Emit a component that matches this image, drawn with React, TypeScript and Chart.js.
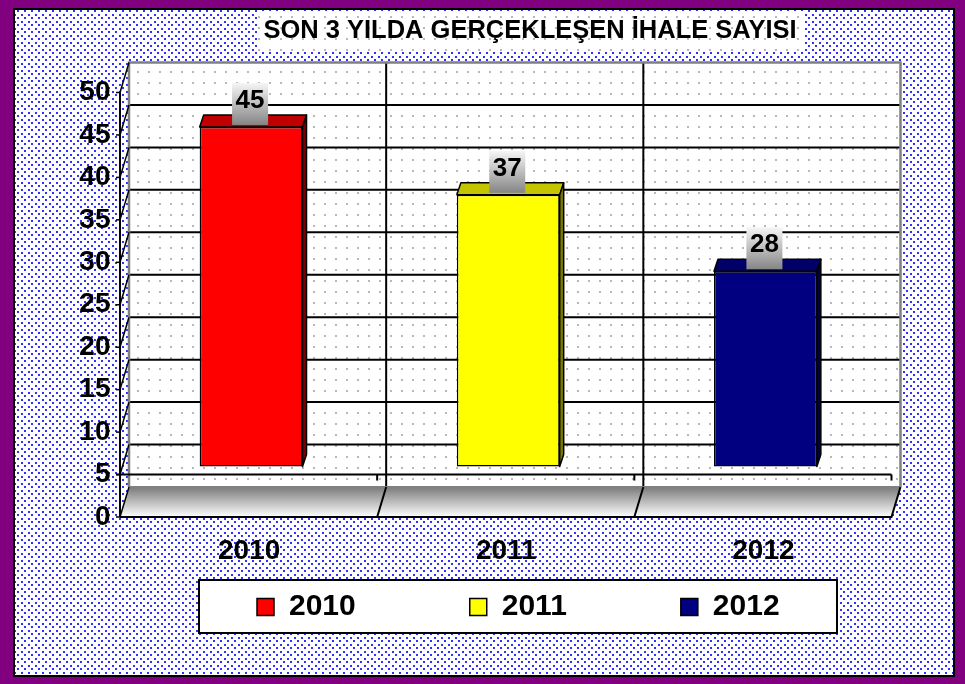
import React, { useEffect, useRef } from 'react';
import { Chart, registerables } from 'chart.js';

Chart.register(...registerables);

const TITLE = 'SON 3 YILDA GERÇEKLEŞEN İHALE SAYISI';
const categories = ['2010', '2011', '2012'];
const values = [45, 37, 28];
const yTickValues = [0, 5, 10, 15, 20, 25, 30, 35, 40, 45, 50];
const axisCrossValue = 5;
const frontColors = ['#ff0000', '#ffff00', '#000080'];
const topColors = ['#c00000', '#c4c400', '#000068'];
const sideColors = ['#7a0000', '#7a7a00', '#00003c'];

const W = 965;
const H = 684;
const FONT = '"Liberation Sans", Arial, Helvetica, sans-serif';
const FRONT = { dx: -2.5, dy: 8 };
const BACK = { dx: 6.5, dy: -22 };
const BAR_DEPTH = { dx: 4, dy: -12 };
const LEGEND_PAD = 114;

Chart.defaults.font.family = FONT;

function makePattern(ctx: CanvasRenderingContext2D, size: number, dots: number[][], color: string, dot: number) {
  const c = document.createElement('canvas');
  c.width = size;
  c.height = size;
  const g = c.getContext('2d')!;
  g.fillStyle = '#ffffff';
  g.fillRect(0, 0, size, size);
  g.fillStyle = color;
  dots.forEach(([x, y]) => g.fillRect(x, y, dot, dot));
  return ctx.createPattern(c, 'repeat')!;
}

export default function App() {
  const ref = useRef<HTMLCanvasElement>(null);

  useEffect(() => {
    const canvas = ref.current!;
    const ctx0 = canvas.getContext('2d')!;
    const bluePat = makePattern(ctx0, 7, [[0, 0], [3, 3]], '#3030ff', 2);
    const grayPat = makePattern(ctx0, 11, [[5, 5]], '#b8b8b8', 2);

    const scenePlugin = {
      id: 'scene3d',
      beforeDraw(chart: any) {
        const { ctx, chartArea } = chart;
        const xs = chart.scales.x;
        const ys = chart.scales.y;

        const tb = chart.titleBlock;
        if (tb) {
          tb.left = 2 * 530 - W;
          tb.right = W;
        }
        const lg = chart.legend;
        if (lg && lg.lineWidths) {
          lg.right = W;
          lg.left = 2 * 257 - LEGEND_PAD - W + lg.lineWidths[0];
          lg.top = 607 - 15 - LEGEND_PAD;
          lg.bottom = H;
        }

        ctx.save();
        // frame
        ctx.fillStyle = '#800080';
        ctx.fillRect(0, 0, W, H);
        ctx.fillStyle = bluePat;
        ctx.fillRect(14, 9, 940, 667);
        ctx.strokeStyle = '#000';
        ctx.lineWidth = 2;
        ctx.strokeRect(14, 9, 940, 667);
        // title box
        ctx.fillStyle = grayPat;
        ctx.fillRect(258, 11, 545, 40);
        // legend box
        ctx.fillStyle = '#ffffff';
        ctx.fillRect(199, 580, 638, 53);
        ctx.strokeStyle = '#000';
        ctx.lineWidth = 2;
        ctx.strokeRect(199, 580, 638, 53);

        const yv = (v: number) => ys.getPixelForValue(v);
        const vmin = yTickValues[0];
        const vmax = yTickValues[yTickValues.length - 1];
        const xb0 = chartArea.left + BACK.dx;
        const xb1 = chartArea.right + BACK.dx;
        const xf0 = chartArea.left + FRONT.dx;
        const xf1 = chartArea.right + FRONT.dx;
        const yB = (v: number) => yv(v) + BACK.dy;
        const yF = (v: number) => yv(v) + FRONT.dy;
        const bounds = categories.slice(1).map((_, i) => (xs.getPixelForValue(i) + xs.getPixelForValue(i + 1)) / 2);

        // back wall
        ctx.fillStyle = grayPat;
        ctx.fillRect(xb0, yB(vmax), xb1 - xb0, yB(vmin) - yB(vmax));
        ctx.strokeStyle = '#000';
        ctx.lineWidth = 2;
        yTickValues.forEach((v) => {
          if (v === vmin || v === vmax) return;
          ctx.beginPath();
          ctx.moveTo(xb0, yB(v));
          ctx.lineTo(xb1, yB(v));
          ctx.stroke();
        });
        bounds.forEach((bx) => {
          ctx.beginPath();
          ctx.moveTo(bx + BACK.dx, yB(vmax));
          ctx.lineTo(bx + BACK.dx, yB(vmin));
          ctx.stroke();
        });
        ctx.strokeStyle = '#808080';
        ctx.lineWidth = 2.5;
        ctx.beginPath();
        ctx.moveTo(xb0, yB(vmin));
        ctx.lineTo(xb0, yB(vmax));
        ctx.lineTo(xb1, yB(vmax));
        ctx.lineTo(xb1, yB(vmin));
        ctx.stroke();

        // floor
        const g = ctx.createLinearGradient(0, yB(vmin), 0, yF(vmin));
        g.addColorStop(0, '#7a7a7a');
        g.addColorStop(1, '#ffffff');
        ctx.fillStyle = g;
        ctx.beginPath();
        ctx.moveTo(xb0, yB(vmin));
        ctx.lineTo(xb1, yB(vmin));
        ctx.lineTo(xf1, yF(vmin));
        ctx.lineTo(xf0, yF(vmin));
        ctx.closePath();
        ctx.fill();
        ctx.strokeStyle = '#808080';
        ctx.lineWidth = 2;
        ctx.beginPath();
        ctx.moveTo(xb0, yB(vmin));
        ctx.lineTo(xb1, yB(vmin));
        ctx.stroke();
        ctx.strokeStyle = '#000';
        ctx.beginPath();
        ctx.moveTo(xb1, yB(vmin));
        ctx.lineTo(xf1, yF(vmin));
        ctx.lineTo(xf0, yF(vmin));
        ctx.stroke();
        bounds.forEach((bx) => {
          ctx.beginPath();
          ctx.moveTo(bx + BACK.dx, yB(vmin));
          ctx.lineTo(bx + FRONT.dx, yF(vmin));
          ctx.stroke();
        });

        // left wall lines
        ctx.lineWidth = 1.5;
        yTickValues.forEach((v) => {
          ctx.beginPath();
          ctx.moveTo(xf0, yF(v));
          ctx.lineTo(xb0, yB(v));
          ctx.stroke();
          ctx.beginPath();
          ctx.moveTo(xf0 - 4, yF(v));
          ctx.lineTo(xf0, yF(v));
          ctx.stroke();
        });
        ctx.lineWidth = 2;
        ctx.beginPath();
        ctx.moveTo(xf0, yF(vmax));
        ctx.lineTo(xf0, yF(vmin));
        ctx.stroke();

        // category axis at crossing value
        const yc = yF(axisCrossValue);
        ctx.beginPath();
        ctx.moveTo(xf0 - 4, yc);
        ctx.lineTo(xf1, yc);
        ctx.stroke();
        [...bounds, chartArea.right].forEach((bx) => {
          ctx.beginPath();
          ctx.moveTo(bx + FRONT.dx, yc);
          ctx.lineTo(bx + FRONT.dx, yc + 6);
          ctx.stroke();
        });
        ctx.restore();
      },
      afterDatasetsDraw(chart: any) {
        const { ctx } = chart;
        const meta = chart.getDatasetMeta(0);
        ctx.save();
        meta.data.forEach((el: any, i: number) => {
          const p = el.getProps(['x', 'y', 'base', 'width'], true);
          const x1 = p.x - p.width / 2;
          const x2 = p.x + p.width / 2;
          const top = p.y;
          const base = p.base;
          ctx.strokeStyle = '#000';
          ctx.lineWidth = 1.5;
          ctx.lineJoin = 'round';
          // top face
          ctx.fillStyle = topColors[i];
          ctx.beginPath();
          ctx.moveTo(x1, top);
          ctx.lineTo(x1 + BAR_DEPTH.dx, top + BAR_DEPTH.dy);
          ctx.lineTo(x2 + BAR_DEPTH.dx, top + BAR_DEPTH.dy);
          ctx.lineTo(x2, top);
          ctx.closePath();
          ctx.fill();
          ctx.stroke();
          // side face
          ctx.fillStyle = sideColors[i];
          ctx.beginPath();
          ctx.moveTo(x2, top);
          ctx.lineTo(x2 + BAR_DEPTH.dx, top + BAR_DEPTH.dy);
          ctx.lineTo(x2 + BAR_DEPTH.dx, base + BAR_DEPTH.dy);
          ctx.lineTo(x2, base);
          ctx.closePath();
          ctx.fill();
          ctx.stroke();

          // data label box
          const bw = 36;
          const bh = 42;
          const bBottom = top - 2;
          const bTop = bBottom - bh;
          const bx = p.x - 1 - bw / 2;
          const lg = ctx.createLinearGradient(0, bTop, 0, bBottom);
          lg.addColorStop(0, '#f6f6f6');
          lg.addColorStop(1, '#858585');
          ctx.fillStyle = lg;
          ctx.fillRect(bx, bTop, bw, bh);
          ctx.fillStyle = '#000';
          ctx.font = `bold 26px ${FONT}`;
          ctx.textAlign = 'center';
          ctx.textBaseline = 'middle';
          ctx.fillText(String(values[i]), p.x - 1, bBottom - 24);
        });
        ctx.restore();
      },
    };

    const chart = new Chart(canvas, {
      type: 'bar',
      data: {
        labels: categories,
        datasets: [
          {
            label: TITLE,
            data: values,
            base: axisCrossValue,
            backgroundColor: frontColors,
            borderColor: '#000',
            borderWidth: 1.5,
            borderSkipped: false,
            barPercentage: 0.4,
            categoryPercentage: 1,
          } as any,
        ],
      },
      options: {
        responsive: false,
        animation: false,
        devicePixelRatio: 1,
        layout: { padding: { left: 0, right: 71, top: 0, bottom: 0 } },
        scales: {
          x: {
            grid: { display: false, drawTicks: false },
            border: { display: false },
            ticks: { padding: 25, labelOffset: -2, color: '#000', font: { size: 28, weight: 'bold' } },
            afterFit: (s: any) => {
              s.height = 115;
            },
          },
          y: {
            min: yTickValues[0],
            max: yTickValues[yTickValues.length - 1],
            grid: { display: false, drawTicks: false },
            border: { display: false },
            ticks: {
              stepSize: yTickValues[1] - yTickValues[0],
              padding: 12,
              labelOffset: 8,
              color: '#000',
              font: { size: 28, weight: 'bold' },
            },
            afterFit: (s: any) => {
              s.width = 122.5;
            },
          },
        },
        plugins: {
          title: {
            display: true,
            text: TITLE,
            color: '#000',
            font: { size: 25.5, weight: 'bold' },
            padding: { top: 16, bottom: 37.9 },
          },
          legend: {
            display: true,
            position: 'bottom',
            maxHeight: 60,
            labels: {
              boxWidth: 17,
              boxHeight: 17,
              padding: LEGEND_PAD,
              color: '#000',
              font: { size: 30, weight: 'bold' },
              generateLabels: () =>
                categories.map((c, i) => ({
                  text: c,
                  fillStyle: frontColors[i],
                  strokeStyle: '#000',
                  lineWidth: 1.5,
                  hidden: false,
                  index: i,
                  fontColor: '#000',
                })),
            },
          },
          tooltip: { enabled: false },
        },
      } as any,
      plugins: [scenePlugin],
    });
    return () => chart.destroy();
  }, []);

  return (
    <div style={{ position: 'absolute', left: 0, top: 0, width: W, height: H }}>
      <canvas ref={ref} width={W} height={H} style={{ display: 'block' }} />
    </div>
  );
}
